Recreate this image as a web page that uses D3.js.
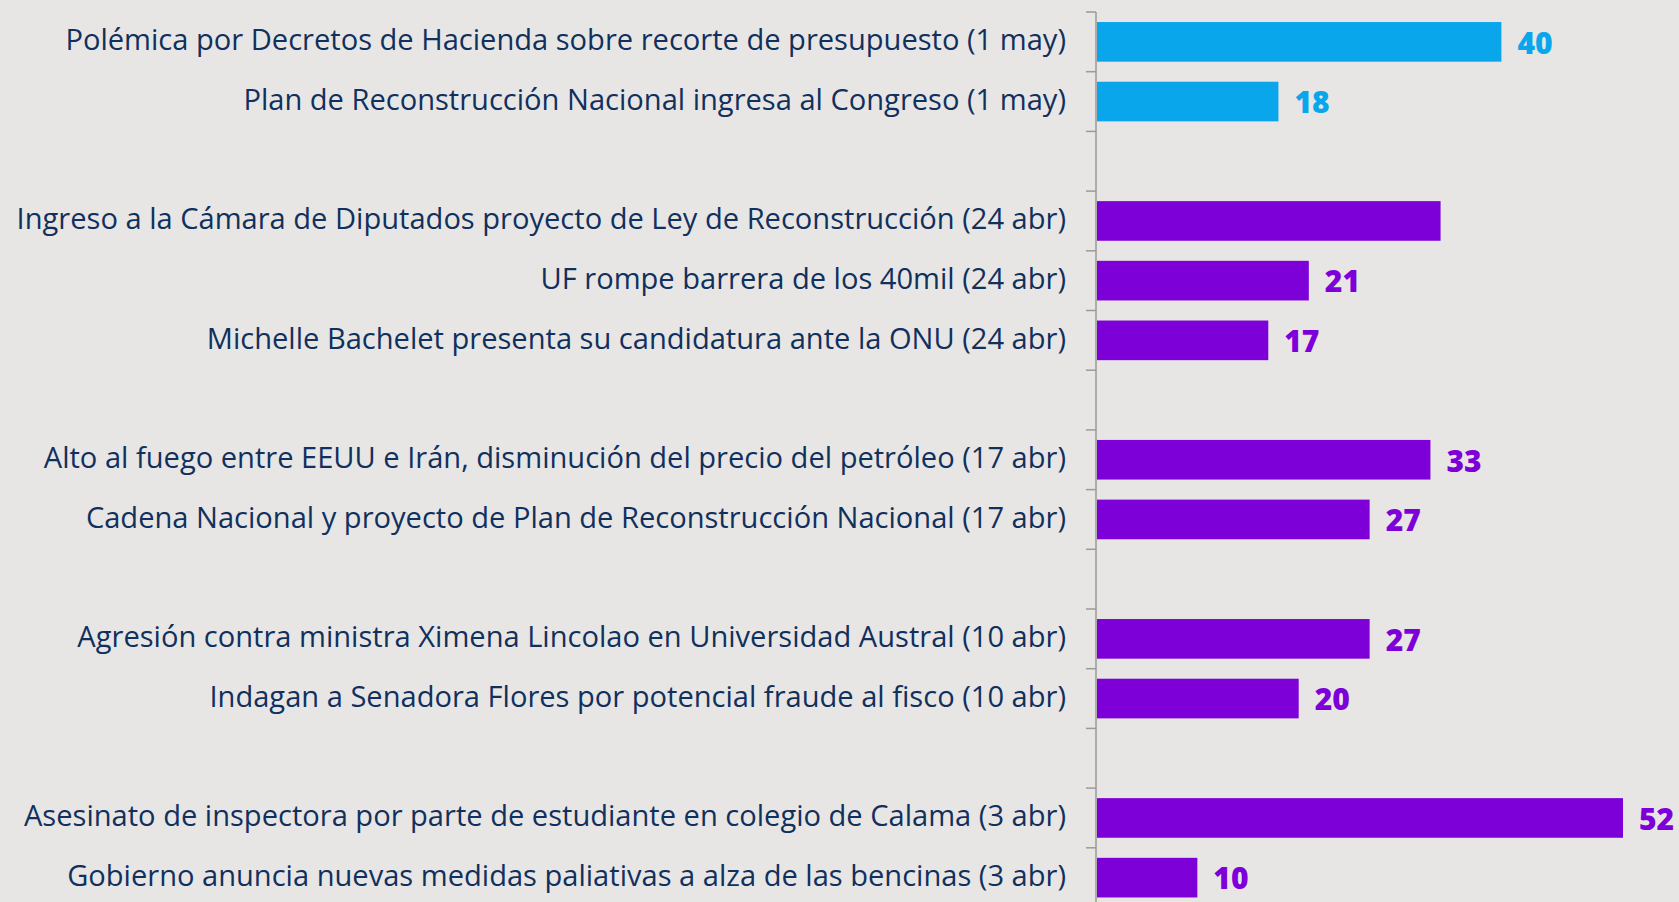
<!DOCTYPE html>
<html>
<head>
<meta charset="utf-8">
<script src="https://cdn.jsdelivr.net/npm/d3@7"></script>
<style>
  html, body { margin: 0; padding: 0; background: #e8e6e4; overflow: hidden; }
  svg { display: block; }
</style>
</head>
<body>
<svg id="chart" width="1679" height="902"></svg>
<script>
// rows top to bottom, "" = empty spacer row between weeks
const labels = [
  "Polémica por Decretos de Hacienda sobre recorte de presupuesto (1 may)",
  "Plan de Reconstrucción Nacional ingresa al Congreso (1 may)",
  "",
  "Ingreso a la Cámara de Diputados proyecto de Ley de Reconstrucción (24 abr)",
  "UF rompe barrera de los 40mil (24 abr)",
  "Michelle Bachelet presenta su candidatura ante la ONU (24 abr)",
  "",
  "Alto al fuego entre EEUU e Irán, disminución del precio del petróleo (17 abr)",
  "Cadena Nacional y proyecto de Plan de Reconstrucción Nacional (17 abr)",
  "",
  "Agresión contra ministra Ximena Lincolao en Universidad Austral (10 abr)",
  "Indagan a Senadora Flores por potencial fraude al fisco (10 abr)",
  "",
  "Asesinato de inspectora por parte de estudiante en colegio de Calama (3 abr)",
  "Gobierno anuncia nuevas medidas paliativas a alza de las bencinas (3 abr)"
];
const values = [40, 18, null, 34, 21, 17, null, 33, 27, null, 27, 20, null, 52, 10];
const showValue = [true, true, false, false, true, true, false, true, true, false, true, true, false, true, true];
const group = ["may", "may", null, "abr", "abr", "abr", null, "abr", "abr", null, "abr", "abr", null, "abr", "abr"];

const colors = {may: "#0aa6ec", abr: "#7e00d9"};
const textColor = "#10305e";

const svg = d3.select("#chart");
const axisX = 1096;
const rowStep = 59.7;
const topY = 12;

const y = d3.scaleBand()
  .domain(d3.range(labels.length))
  .range([topY, topY + rowStep * labels.length])
  .padding(0);

const x = d3.scaleLinear().domain([0, 52]).range([axisX, axisX + 527]);

const barH = rowStep * 0.664;

// axis line + ticks at every row boundary
svg.append("line")
  .attr("x1", axisX).attr("x2", axisX)
  .attr("y1", topY).attr("y2", 902)
  .attr("stroke", "#9c9a98").attr("stroke-width", 1.5);

svg.selectAll(".tick")
  .data(d3.range(labels.length + 1))
  .join("line")
  .attr("class", "tick")
  .attr("x1", axisX - 10).attr("x2", axisX)
  .attr("y1", i => topY + i * rowStep).attr("y2", i => topY + i * rowStep)
  .attr("stroke", "#9c9a98").attr("stroke-width", 1.5);

const rows = d3.range(labels.length).filter(i => values[i] != null);

svg.selectAll(".bar")
  .data(rows)
  .join("rect")
  .attr("class", "bar")
  .attr("x", x(0) + 1)
  .attr("y", i => y(i) + (y.bandwidth() - barH) / 2)
  .attr("width", i => x(values[i]) - x(0) - 1)
  .attr("height", barH)
  .attr("fill", i => colors[group[i]]);

const lab = svg.selectAll(".lab")
  .data(rows)
  .join("text")
  .attr("class", "lab")
  .attr("x", 1066)
  .attr("y", i => y(i) + y.bandwidth() / 2 - 2)
  .attr("dy", "0.35em")
  .attr("text-anchor", "end")
  .attr("fill", textColor)
  .style("font-family", "'Open Sans', sans-serif")
  .style("font-size", "26px")
  .text(i => labels[i]);

// fit font size so the longest label spans like the reference (~1050px)
const maxW = d3.max(lab.nodes(), n => n.getComputedTextLength());
lab.style("font-size", (26 * 1050 / maxW).toFixed(2) + "px");

svg.selectAll(".val")
  .data(rows.filter(i => showValue[i]))
  .join("text")
  .attr("class", "val")
  .attr("x", i => x(values[i]) + 16)
  .attr("y", i => y(i) + y.bandwidth() / 2 + 1)
  .attr("dy", "0.36em")
  .attr("fill", i => colors[group[i]])
  .style("font-family", "'Open Sans', sans-serif")
  .style("font-weight", "800")
  .style("font-size", "30px")
  .text(i => values[i]);
</script>
</body>
</html>
